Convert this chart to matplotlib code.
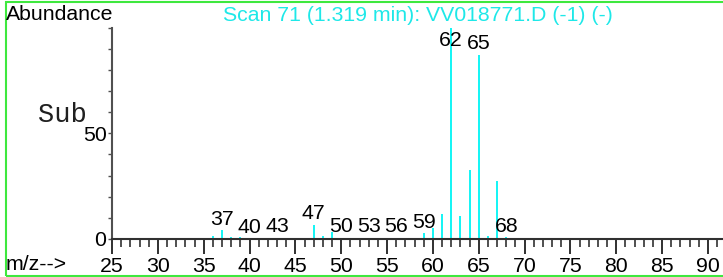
import matplotlib
matplotlib.use("Agg")
import matplotlib.pyplot as plt
from matplotlib.patches import Rectangle
from matplotlib.ticker import MultipleLocator, FixedLocator

plt.rcParams['font.family'] = ['Liberation Sans', 'DejaVu Sans']

# Spectrum data (m/z, relative abundance)
mz = [36, 37, 38, 39, 40, 41, 43, 46, 47, 48, 49, 50, 51, 52, 53, 56, 58,
      59, 60, 61, 62, 63, 64, 65, 66, 67, 68]
abundance = [1.6, 4.1, 0.9, 1.0, 0.4, 0.6, 0.6, 0.6, 6.8, 1.4, 3.5, 0.6, 0.5,
             0.5, 0.5, 0.5, 0.6, 2.7, 5.4, 11.8, 100.0, 10.8, 32.5, 87.0, 1.6,
             27.5, 0.9]
labeled_mz = [37, 40, 43, 47, 50, 53, 56, 59, 62, 65, 68]
x_ticks = list(range(25, 95, 5))
y_label_ticks = [0, 50]
title = "Scan 71 (1.319 min): VV018771.D (-1) (-)"

W, H = 723, 277
FS = 15.3
fig = plt.figure(figsize=(W / 100, H / 100), dpi=100)
ax = fig.add_axes([112 / W, 38 / H, (W - 112) / W, (239 - 27.5) / H])

cyan = '#00f4f4'
ax.vlines(mz, 0, abundance, colors=cyan, linewidth=1.3)

ax.set_xlim(25, 91.65)
ax.set_ylim(0, 100)

for s in ['top', 'right']:
    ax.spines[s].set_visible(False)
ax.spines['left'].set_color('#505050')
ax.spines['left'].set_linewidth(1.5)
ax.spines['bottom'].set_color('#303030')
ax.spines['bottom'].set_linewidth(1.5)

ax.xaxis.set_major_locator(FixedLocator(x_ticks))
ax.xaxis.set_minor_locator(MultipleLocator(1))
ax.tick_params(axis='x', which='major', direction='out', length=11, width=1.3,
               color='#202020', labelsize=FS, pad=2)
ax.tick_params(axis='x', which='minor', direction='out', length=6, width=1.1,
               color='#202020')

ax.yaxis.set_major_locator(FixedLocator(y_label_ticks))
ax.yaxis.set_minor_locator(MultipleLocator(10))
ax.tick_params(axis='y', which='major', direction='out', length=3, width=1,
               color='#505050', labelsize=FS, pad=1)
ax.tick_params(axis='y', which='minor', direction='out', length=3, width=1,
               color='#505050')

# Peak labels
heights = dict(zip(mz, abundance))
for m in labeled_mz:
    h = min(heights.get(m, 0.0), 88.5)
    ax.annotate(str(m), xy=(m, h), xytext=(0, 4), textcoords='offset points',
                ha='center', va='baseline', fontsize=FS, color='black')

# Texts around the plot
fig.text(6 / W, 1 - 20 / H, "Abundance", fontsize=FS, ha='left', va='baseline')
fig.text(418 / W, 1 - 21 / H, title, fontsize=FS, ha='center', va='baseline',
         color='#1ee8e8')
fig.text(38 / W, 1 - 122 / H, "Sub", fontsize=19.5, ha='left', va='baseline',
         family=['Liberation Mono', 'DejaVu Sans Mono'], color='#202020')
fig.text(6 / W, 1 - 270 / H, "m/z-->", fontsize=FS, ha='left', va='baseline')

# Green frame
fig.patches.append(Rectangle((5.5 / W, 1.0 / H), (W + 10) / W, (H - 3) / H,
                             transform=fig.transFigure, fill=False,
                             edgecolor='#3ee83e', linewidth=1.5))

fig.savefig("out.png", dpi=100)
